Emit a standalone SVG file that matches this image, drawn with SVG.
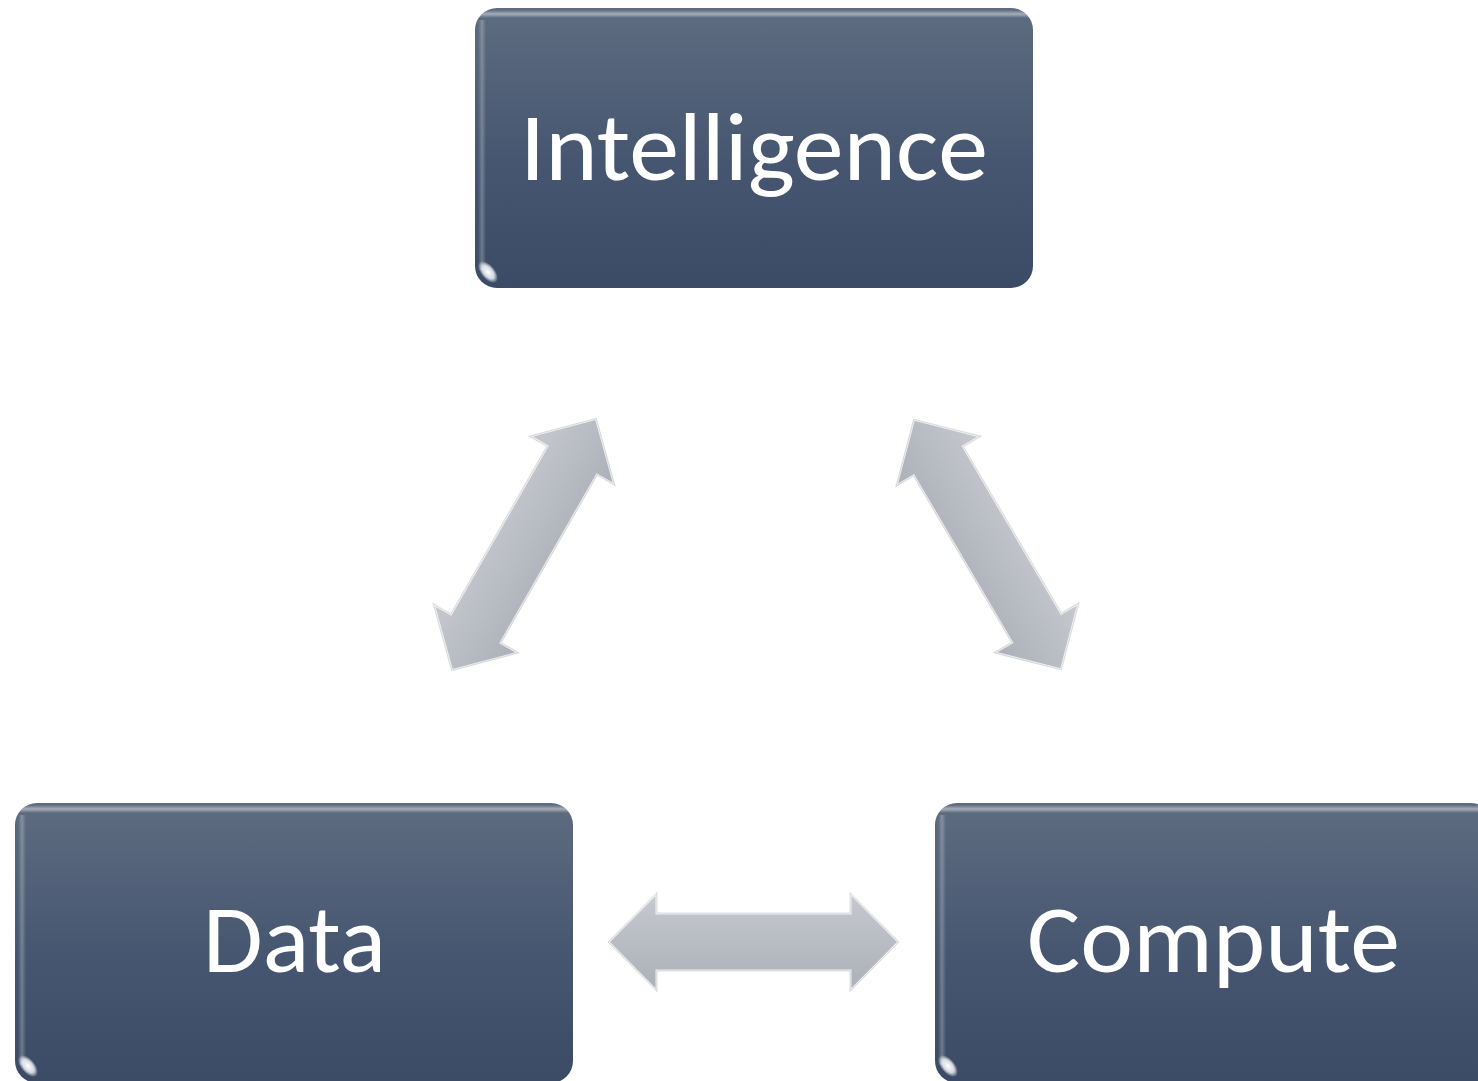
<svg xmlns="http://www.w3.org/2000/svg" width="1478" height="1081" viewBox="0 0 1478 1081">
  <defs>
    <linearGradient id="boxFill" x1="0" y1="0" x2="0" y2="1">
      <stop offset="0" stop-color="#5e6c80"/>
      <stop offset="0.55" stop-color="#465670"/>
      <stop offset="1" stop-color="#3c4b65"/>
    </linearGradient>
    <linearGradient id="topGloss" x1="0" y1="0" x2="0" y2="1">
      <stop offset="0" stop-color="#ffffff" stop-opacity="0"/>
      <stop offset="0.5" stop-color="#ffffff" stop-opacity="0.45"/>
      <stop offset="1" stop-color="#ffffff" stop-opacity="0"/>
    </linearGradient>
    <linearGradient id="sideGloss" x1="0" y1="0" x2="1" y2="0">
      <stop offset="0" stop-color="#ffffff" stop-opacity="0"/>
      <stop offset="0.5" stop-color="#ffffff" stop-opacity="0.25"/>
      <stop offset="1" stop-color="#ffffff" stop-opacity="0"/>
    </linearGradient>
    <radialGradient id="glint" cx="0.5" cy="0.5" r="0.5">
      <stop offset="0" stop-color="#ffffff" stop-opacity="1"/>
      <stop offset="0.6" stop-color="#eef2f8" stop-opacity="0.85"/>
      <stop offset="1" stop-color="#ffffff" stop-opacity="0"/>
    </radialGradient>
    <linearGradient id="arrowFill" x1="0" y1="-50" x2="0" y2="50" gradientUnits="userSpaceOnUse">
      <stop offset="0" stop-color="#c6c9cf"/>
      <stop offset="1" stop-color="#abafb7"/>
    </linearGradient>
    <!-- double-headed arrow, centred on the origin, pointing along x -->
    <path id="dblArrow" d="M -145.5 0 L -96.5 -49.5 L -96.5 -29 L 96.5 -29 L 96.5 -49.5 L 145.5 0 L 96.5 49.5 L 96.5 29 L -96.5 29 L -96.5 49.5 Z"/>
    <g id="arrowShape">
      <use href="#dblArrow" fill="url(#arrowFill)"/>
      <use href="#dblArrow" fill="none" stroke="#ffffff" stroke-opacity="0.75" stroke-width="3" stroke-linejoin="miter"/>
      <use href="#dblArrow" fill="none" stroke="#9ea2aa" stroke-opacity="0.35" stroke-width="1"/>
    </g>
    <clipPath id="clipTop"><rect x="475" y="8" width="558" height="280" rx="22"/></clipPath>
    <clipPath id="clipData"><rect x="15" y="803" width="558" height="280" rx="22"/></clipPath>
    <clipPath id="clipCompute"><rect x="935" y="803" width="558" height="280" rx="22"/></clipPath>
  </defs>
  <style>
    .box { fill: url(#boxFill); }
    .label { font-family: "Carlito", "Lato", "Noto Sans", sans-serif; fill: #ffffff; text-anchor: middle; }
  </style>

  <rect width="1478" height="1081" fill="#ffffff"/>

  <g id="connectors">
    <g id="link-data-intelligence" transform="translate(524 544.5) rotate(-60.2)"><use href="#arrowShape"/></g>
    <g id="link-intelligence-compute" transform="translate(987.5 544.5) rotate(59.5)"><use href="#arrowShape"/></g>
    <g id="link-data-compute" transform="translate(753.5 942)"><use href="#arrowShape"/></g>
  </g>

  <g id="node-intelligence">
    <rect class="box" x="475" y="8" width="558" height="280" rx="22"/>
    <g clip-path="url(#clipTop)">
      <rect x="475" y="10" width="558" height="8" fill="url(#topGloss)"/>
      <rect x="478" y="20" width="8" height="250" fill="url(#sideGloss)"/>
      <ellipse cx="488" cy="272" rx="13" ry="7" transform="rotate(50 488 272)" fill="url(#glint)"/>
    </g>
    <text class="label" x="754" y="180" font-size="96" textLength="468" lengthAdjust="spacingAndGlyphs">Intelligence</text>
  </g>

  <g id="node-data">
    <rect class="box" x="15" y="803" width="558" height="280" rx="22"/>
    <g clip-path="url(#clipData)">
      <rect x="15" y="805" width="558" height="8" fill="url(#topGloss)"/>
      <rect x="18" y="815" width="8" height="250" fill="url(#sideGloss)"/>
      <ellipse cx="28" cy="1066" rx="13" ry="7" transform="rotate(50 28 1066)" fill="url(#glint)"/>
    </g>
    <text class="label" x="294.5" y="972" font-size="96" textLength="183" lengthAdjust="spacingAndGlyphs">Data</text>
  </g>

  <g id="node-compute">
    <rect class="box" x="935" y="803" width="558" height="280" rx="22"/>
    <g clip-path="url(#clipCompute)">
      <rect x="935" y="805" width="558" height="8" fill="url(#topGloss)"/>
      <rect x="938" y="815" width="8" height="250" fill="url(#sideGloss)"/>
      <ellipse cx="948" cy="1066" rx="13" ry="7" transform="rotate(50 948 1066)" fill="url(#glint)"/>
    </g>
    <text class="label" x="1213.5" y="972" font-size="96" textLength="373" lengthAdjust="spacingAndGlyphs">Compute</text>
  </g>
</svg>
